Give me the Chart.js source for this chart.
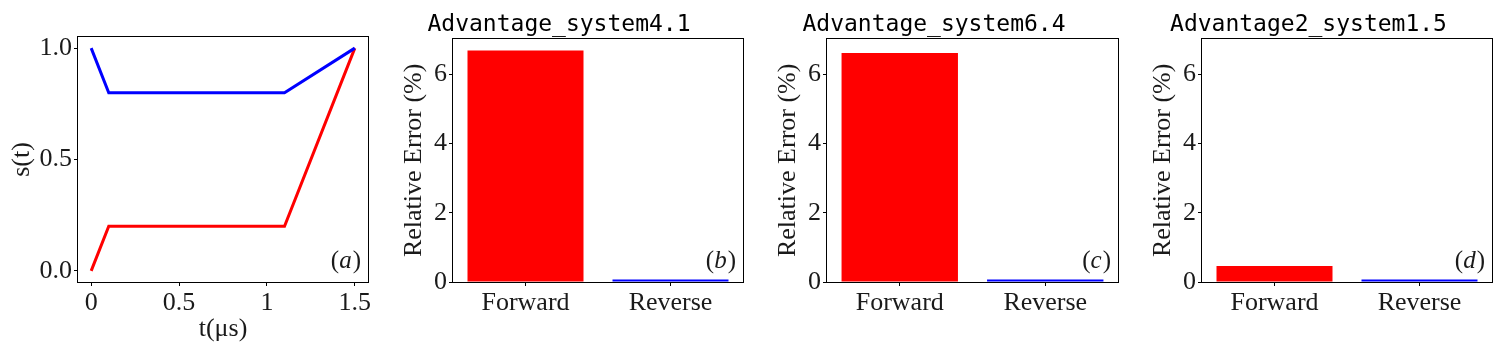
<!DOCTYPE html>
<html>
<head>
<meta charset="utf-8">
<script src="https://cdn.jsdelivr.net/npm/chart.js@4.4.1/dist/chart.umd.min.js"></script>
<style>
  body { margin: 0; background: #fff; }
  #wrap { position: relative; width: 1500px; height: 353px; overflow: hidden; }
  canvas { position: absolute; top: 0; }
</style>
</head>
<body>
<div id="wrap">
  <canvas id="panelA" width="375" height="353" style="left:0px"></canvas>
  <canvas id="panelB" width="375" height="353" style="left:375px"></canvas>
  <canvas id="panelC" width="375" height="353" style="left:750px"></canvas>
  <canvas id="panelD" width="375" height="353" style="left:1125px"></canvas>
</div>
<script>
// schedule s(t) for the two anneals
const tValues = [0, 0.1, 1.1, 1.5];
const sForward = [0, 0.2, 0.2, 1];
const sReverse = [1, 0.8, 0.8, 1];
const tTicks = [0, 0.5, 1, 1.5];
const tTickLabels = ['0', '0.5', '1', '1.5'];
const sTicks = [0, 0.5, 1];
const sTickLabels = ['0.0', '0.5', '1.0'];

// relative error per device
const directions = ['Forward', 'Reverse'];
const systems = ['Advantage_system4.1', 'Advantage_system6.4', 'Advantage2_system1.5'];
const errSystem41 = [6.69, 0.07];
const errSystem64 = [6.62, 0.07];
const errSystem2 = [0.46, 0.07];
const errTicks = [0, 2, 4, 6];
const panelTags = ['a', 'b', 'c', 'd'];

const SERIF = '"Liberation Serif", "DejaVu Serif", serif';
const MONO = '"DejaVu Sans Mono", monospace';
const TEXT = '#1a1a1a';
const H = 353;

// frame around the axes + the (a)/(b)... tag
const framePlugin = {
  id: 'frame',
  afterDraw(chart, args, opts) {
    const ctx = chart.ctx;
    const a = chart.chartArea;
    ctx.save();
    ctx.strokeStyle = '#000';
    ctx.lineWidth = 1;
    ctx.strokeRect(Math.round(a.left) - 0.5, Math.round(a.top) - 0.5,
      Math.round(a.right - a.left) + 1, Math.round(a.bottom - a.top) + 1);

    const up = '25px ' + SERIF;
    const it = 'italic 25px ' + SERIF;
    ctx.fillStyle = TEXT;
    ctx.textBaseline = 'alphabetic';
    ctx.textAlign = 'left';
    ctx.font = up;
    const wo = ctx.measureText('(').width;
    const wc = ctx.measureText(')').width;
    ctx.font = it;
    const wl = ctx.measureText(opts.text).width;
    let x = a.right - 7 - wo - wl - wc - 1;
    const y = a.bottom - 14;
    ctx.font = up;
    ctx.fillText('(', x, y);
    x += wo;
    ctx.font = it;
    ctx.fillText(opts.text, x, y);
    x += wl + 1;
    ctx.font = up;
    ctx.fillText(')', x, y);
    ctx.restore();
  }
};

function tickGrid() {
  return { display: true, drawOnChartArea: false, drawTicks: true, tickLength: 4, color: '#000', lineWidth: 1 };
}

function yTitlePad(plotLeft, dist) {
  // centre of the rotated title sits dist px left of the plot
  return plotLeft - dist - 26 * 1.2 / 2;
}

// panel (a): line chart
new Chart(document.getElementById('panelA'), {
  type: 'line',
  data: {
    datasets: [
      { data: tValues.map((t, i) => ({ x: t, y: sReverse[i] })), borderColor: '#0000ff', borderWidth: 3, pointRadius: 0, tension: 0 },
      { data: tValues.map((t, i) => ({ x: t, y: sForward[i] })), borderColor: '#ff0000', borderWidth: 3, pointRadius: 0, tension: 0 }
    ]
  },
  options: {
    responsive: false,
    animation: false,
    layout: { padding: { top: 37, right: 7, left: 0, bottom: 0 } },
    plugins: { legend: { display: false }, tooltip: { enabled: false }, frame: { text: panelTags[0] } },
    scales: {
      x: {
        type: 'linear', min: -0.075, max: 1.575,
        afterBuildTicks: s => { s.ticks = tTicks.map(v => ({ value: v })); },
        afterFit: s => { s.height = H - 282; },
        grid: tickGrid(), border: { display: false },
        ticks: { color: TEXT, font: { family: SERIF, size: 26 }, padding: 2, maxRotation: 0, callback: (v, i) => tTickLabels[i] },
        title: { display: true, text: 't(μs)', color: TEXT, font: { family: SERIF, size: 26 }, padding: { top: 0, bottom: 8 } }
      },
      y: {
        type: 'linear', min: -0.05, max: 1.05,
        afterBuildTicks: s => { s.ticks = sTicks.map(v => ({ value: v })); },
        afterFit: s => { s.width = 78; },
        grid: tickGrid(), border: { display: false },
        ticks: { color: TEXT, font: { family: SERIF, size: 26 }, padding: 2, callback: (v, i) => sTickLabels[i] },
        title: { display: true, text: 's(t)', color: TEXT, font: { family: SERIF, size: 26 }, padding: { top: yTitlePad(78, 56), bottom: 0 } }
      }
    }
  },
  plugins: [framePlugin]
});

// panels (b)-(d): bar charts
function barPanel(id, title, values, tag, plotLeft, plotRight) {
  new Chart(document.getElementById(id), {
    type: 'bar',
    data: {
      labels: directions,
      datasets: [{ data: values, backgroundColor: ['#ff0000', '#0000ff'], borderWidth: 0, barPercentage: 0.8, categoryPercentage: 1 }]
    },
    options: {
      responsive: false,
      animation: false,
      layout: { padding: { top: 0, right: 375 - plotRight, left: 0, bottom: 0 } },
      plugins: {
        legend: { display: false },
        tooltip: { enabled: false },
        title: { display: true, text: title, color: '#000', font: { family: MONO, size: 23, weight: 'normal', lineHeight: 1.2 }, padding: { top: 11, bottom: 0 } },
        frame: { text: tag }
      },
      scales: {
        x: {
          offset: true,
          afterFit: s => { s.height = H - 282; },
          grid: Object.assign(tickGrid(), { offset: false }), border: { display: false },
          ticks: { color: TEXT, font: { family: SERIF, size: 26 }, padding: 2, maxRotation: 0 }
        },
        y: {
          min: 0, max: 7.035,
          afterBuildTicks: s => { s.ticks = errTicks.map(v => ({ value: v })); },
          afterFit: s => { s.width = plotLeft; },
          grid: tickGrid(), border: { display: false },
          ticks: { color: TEXT, font: { family: SERIF, size: 26 }, padding: 2, callback: v => String(v) },
          title: { display: true, text: 'Relative Error (%)', color: TEXT, font: { family: SERIF, size: 26 }, padding: { top: yTitlePad(plotLeft, 39), bottom: 0 } }
        }
      }
    },
    plugins: [framePlugin]
  });
}

barPanel('panelB', systems[0], errSystem41, panelTags[1], 78, 368);
barPanel('panelC', systems[1], errSystem64, panelTags[2], 77, 368);
barPanel('panelD', systems[2], errSystem2, panelTags[3], 77, 367);
</script>
</body>
</html>
